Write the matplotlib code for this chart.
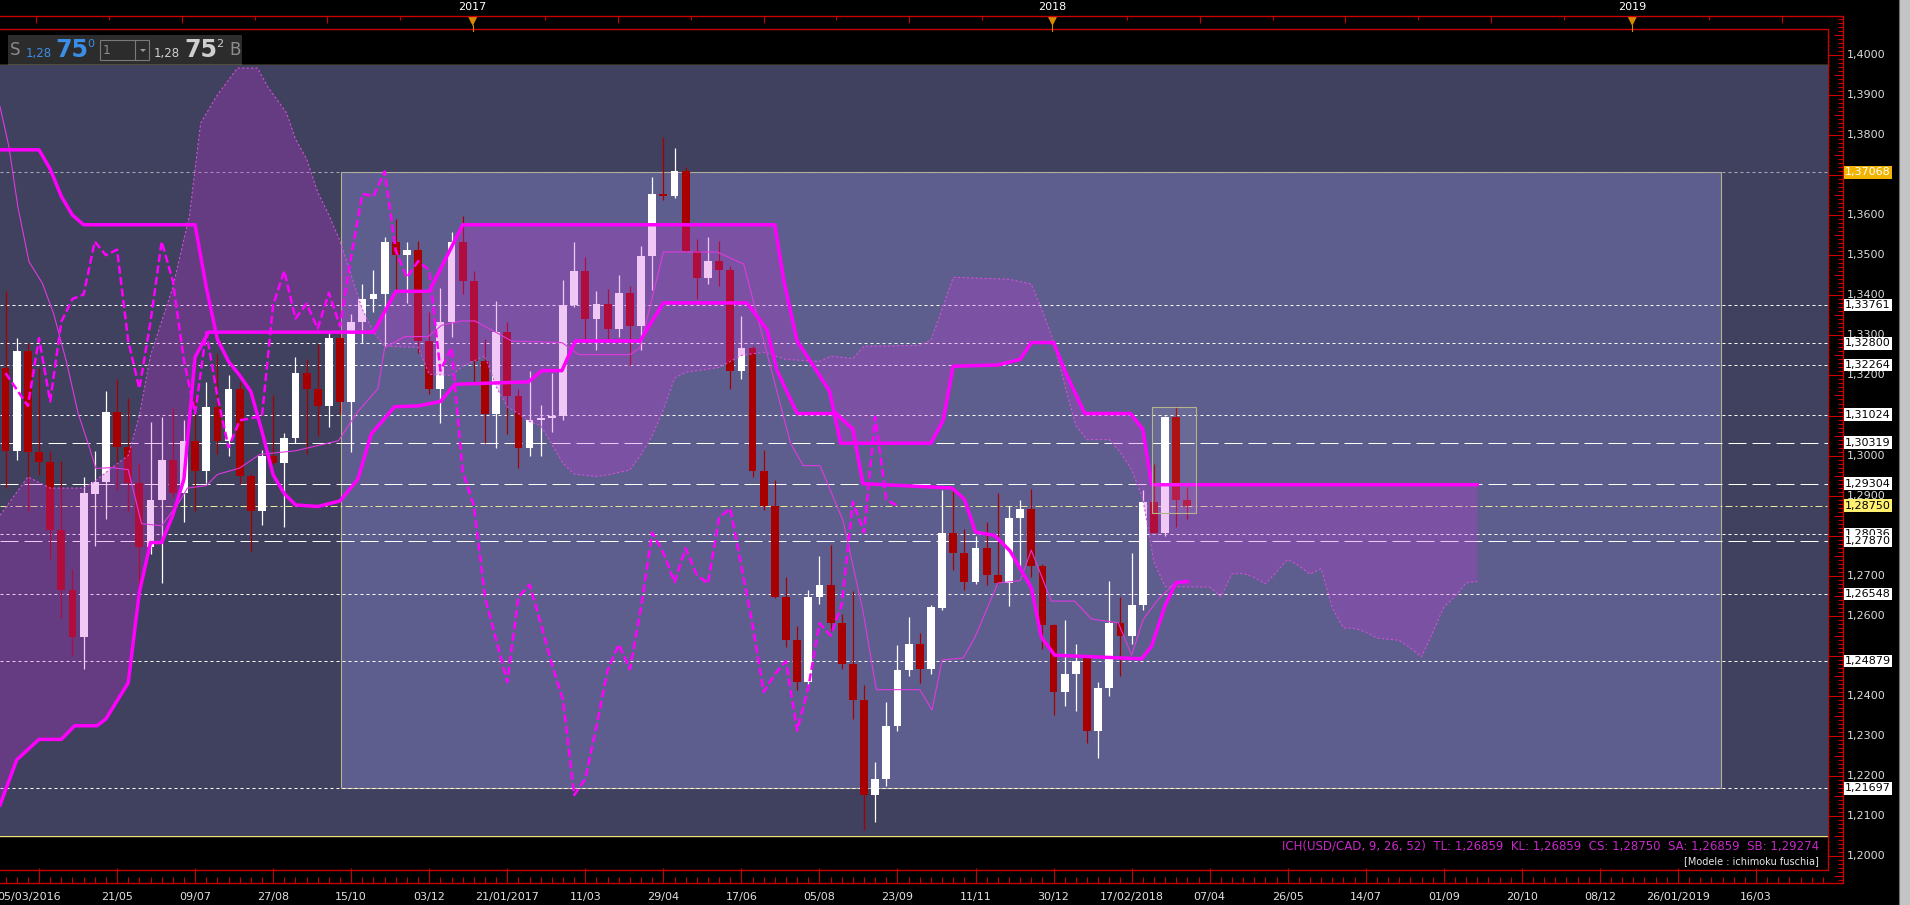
import numpy as np
import matplotlib
matplotlib.use("Agg")
import matplotlib.pyplot as plt
from matplotlib import transforms
from matplotlib.patches import Rectangle, Polygon
from matplotlib.collections import LineCollection

W, H = 1910, 905

# ---------------- data (weekly USD/CAD candles, bar index 0 = first date label) ----------------
bar_index = np.arange(-3, 104)
opens = [1.3218, 1.3011, 1.3261, 1.3009, 1.2984, 1.2815, 1.2664, 1.2548, 1.2904, 1.2935,
         1.3108, 1.3022, 1.2932, 1.2772, 1.2888, 1.2989, 1.2907, 1.3037, 1.2961, 1.3122,
         1.3037, 1.3165, 1.2950, 1.2862, 1.2998, 1.2981, 1.3043, 1.3206, 1.3167, 1.3124,
         1.3293, 1.3135, 1.3334, 1.3391, 1.3402, 1.3534, 1.3500, 1.3514, 1.3286, 1.3167,
         1.3334, 1.3534, 1.3436, 1.3237, 1.3105, 1.3308, 1.3148, 1.3020, 1.3088, 1.3093,
         1.3099, 1.3376, 1.3461, 1.3342, 1.3379, 1.3317, 1.3406, 1.3323, 1.3497, 1.3653,
         1.3647, 1.3709, 1.3511, 1.3444, 1.3485, 1.3463, 1.3212, 1.3269, 1.2961, 1.2875,
         1.2647, 1.2540, 1.2435, 1.2647, 1.2678, 1.2582, 1.2480, 1.2390, 1.2153, 1.2193,
         1.2325, 1.2464, 1.2529, 1.2467, 1.2619, 1.2808, 1.2758, 1.2684, 1.2769, 1.2702,
         1.2681, 1.2845, 1.2868, 1.2724, 1.2577, 1.2410, 1.2455, 1.2495, 1.2314, 1.2421,
         1.2582, 1.2551, 1.2627, 1.2885, 1.2808, 1.3097, 1.2890]
highs = [1.3410, 1.3293, 1.3280, 1.3218, 1.3011, 1.2986, 1.2718, 1.2947, 1.3011, 1.3161,
         1.3190, 1.3144, 1.2981, 1.3084, 1.3097, 1.3119, 1.3088, 1.3144, 1.3184, 1.3257,
         1.3201, 1.3184, 1.2955, 1.3015, 1.3150, 1.3056, 1.3246, 1.3240, 1.3278, 1.3305,
         1.3304, 1.3353, 1.3429, 1.3463, 1.3545, 1.3590, 1.3534, 1.3536, 1.3359, 1.3418,
         1.3557, 1.3598, 1.3461, 1.3291, 1.3387, 1.3334, 1.3167, 1.3210, 1.3127, 1.3206,
         1.3438, 1.3534, 1.3495, 1.3410, 1.3415, 1.3451, 1.3424, 1.3523, 1.3694, 1.3794,
         1.3768, 1.3720, 1.3540, 1.3545, 1.3536, 1.3472, 1.3348, 1.3274, 1.3014, 1.2939,
         1.2698, 1.2574, 1.2665, 1.2749, 1.2776, 1.2604, 1.2661, 1.2427, 1.2235, 1.2385,
         1.2528, 1.2597, 1.2557, 1.2627, 1.2913, 1.2913, 1.2817, 1.2800, 1.2834, 1.2907,
         1.2875, 1.2890, 1.2916, 1.2730, 1.2580, 1.2589, 1.2529, 1.2497, 1.2434, 1.2687,
         1.2647, 1.2758, 1.2913, 1.2980, 1.3100, 1.3124, 1.2921]
lows = [1.2919, 1.2989, 1.2862, 1.2952, 1.2743, 1.2596, 1.2501, 1.2467, 1.2774, 1.2842,
        1.2913, 1.2862, 1.2670, 1.2755, 1.2681, 1.2896, 1.2834, 1.2862, 1.2932, 1.3003,
        1.2998, 1.2930, 1.2763, 1.2828, 1.2978, 1.2823, 1.3032, 1.3003, 1.3048, 1.3071,
        1.3105, 1.3009, 1.3282, 1.3359, 1.3274, 1.3410, 1.3381, 1.3255, 1.3153, 1.3082,
        1.3297, 1.3402, 1.3184, 1.3031, 1.3020, 1.3054, 1.2970, 1.2999, 1.2999, 1.3060,
        1.3088, 1.3370, 1.3286, 1.3263, 1.3286, 1.3297, 1.3226, 1.3263, 1.3413, 1.3639,
        1.3644, 1.3508, 1.3391, 1.3429, 1.3424, 1.3167, 1.3192, 1.2947, 1.2864, 1.2645,
        1.2523, 1.2416, 1.2431, 1.2630, 1.2563, 1.2467, 1.2342, 1.2066, 1.2085, 1.2175,
        1.2314, 1.2450, 1.2433, 1.2455, 1.2616, 1.2715, 1.2664, 1.2679, 1.2676, 1.2679,
        1.2625, 1.2713, 1.2698, 1.2518, 1.2354, 1.2376, 1.2363, 1.2284, 1.2246, 1.2399,
        1.2449, 1.2529, 1.2616, 1.2808, 1.2800, 1.2823, 1.2841]
closes = [1.3011, 1.3261, 1.3009, 1.2984, 1.2815, 1.2664, 1.2548, 1.2907, 1.2935, 1.3108,
          1.3022, 1.2932, 1.2772, 1.2888, 1.2989, 1.2907, 1.3037, 1.2961, 1.3122, 1.3037,
          1.3165, 1.2950, 1.2862, 1.2998, 1.2981, 1.3045, 1.3206, 1.3165, 1.3124, 1.3293,
          1.3135, 1.3334, 1.3391, 1.3402, 1.3534, 1.3500, 1.3514, 1.3286, 1.3167, 1.3334,
          1.3534, 1.3436, 1.3237, 1.3105, 1.3308, 1.3148, 1.3020, 1.3088, 1.3093, 1.3099,
          1.3376, 1.3461, 1.3342, 1.3379, 1.3317, 1.3406, 1.3323, 1.3497, 1.3653, 1.3647,
          1.3709, 1.3511, 1.3444, 1.3485, 1.3463, 1.3212, 1.3269, 1.2961, 1.2875, 1.2647,
          1.2540, 1.2435, 1.2647, 1.2678, 1.2582, 1.2480, 1.2390, 1.2153, 1.2193, 1.2325,
          1.2464, 1.2529, 1.2467, 1.2622, 1.2808, 1.2758, 1.2684, 1.2769, 1.2702, 1.2681,
          1.2845, 1.2868, 1.2724, 1.2577, 1.2410, 1.2455, 1.2487, 1.2314, 1.2421, 1.2582,
          1.2551, 1.2628, 1.2885, 1.2808, 1.3097, 1.2890, 1.2875]

# Ichimoku lines (bar position, price)
tenkan_x = [-3.5, -2.7, -1.9, -0.9, 0.3, 1.3, 2.5, 3.5, 4.5, 5.1, 6.5, 8, 9.2, 11, 12.6, 13.3, 15, 16, 18,
            19.8, 23, 26.85, 28.6, 30.4, 31, 32.8, 34.9, 36.1, 37.9, 39.1, 42.4, 46.9, 48.4, 53, 53.9,
            56, 60.8, 63.2, 65.6, 67.4, 68.55, 70.05, 72.1, 73.9, 75.1, 79, 80.1, 81, 82.9, 83.95, 86,
            88, 89, 90.8, 92.9, 94.4, 96.8, 98, 99.05, 100.4, 101.9, 103]
tenkan_y = [1.3871, 1.3771, 1.3621, 1.3484, 1.3430, 1.3355, 1.3230, 1.3106, 1.3022, 1.2968, 1.2970,
            1.2965, 1.2830, 1.2825, 1.2885, 1.2919, 1.2925, 1.2953, 1.2969, 1.3003, 1.3012, 1.3037,
            1.3110, 1.3167, 1.3269, 1.3297, 1.3297, 1.3325, 1.3336, 1.3336, 1.3286, 1.3282, 1.3252,
            1.3252, 1.3269, 1.3508, 1.3508, 1.3478, 1.3223, 1.3031, 1.2975, 1.2975, 1.2839, 1.2613,
            1.2416, 1.2416, 1.2365, 1.2490, 1.2495, 1.2547, 1.2682, 1.2688, 1.2764, 1.2637, 1.2637,
            1.2592, 1.2583, 1.2502, 1.2592, 1.2642, 1.2682, 1.26859]

kijun_x = [-3.5, 0, 1, 2, 3, 4, 14, 15, 16, 17, 18, 19, 20, 21, 22, 23, 25, 27, 28.6, 29.8, 31.9, 34,
           36, 37.3, 43.9, 45.1, 46.9, 48.1, 53.9, 56, 63.5, 65.3, 66.2, 68, 71.5, 73, 73.9, 81.9, 83,
           84, 85.7, 87.1, 89, 89.9, 91.1, 98.9, 99.8, 101, 102, 103]
kijun_y = [1.3763, 1.3763, 1.3715, 1.3647, 1.3600, 1.3576, 1.3576, 1.3420, 1.3290, 1.3235, 1.3200,
           1.3160, 1.3060, 1.2952, 1.2905, 1.2877, 1.2873, 1.2887, 1.2941, 1.3054, 1.3122, 1.3124,
           1.3135, 1.3178, 1.3184, 1.3212, 1.3212, 1.3286, 1.3286, 1.3381, 1.3381, 1.3314, 1.3212,
           1.3105, 1.3105, 1.3066, 1.2930, 1.2919, 1.2891, 1.2809, 1.2801, 1.2762, 1.2671, 1.2547,
           1.2502, 1.2493, 1.2525, 1.2626, 1.2683, 1.26859]

ssb_x = [-3.5, -2, 0, 2, 3.2, 5.2, 6, 8, 9, 10, 11, 12, 13, 14, 15.2, 30, 32, 35, 38, 66, 66.8, 68,
         69.2, 70.9, 71.9, 80, 81.1, 82, 86, 88, 89, 91, 92, 93.8, 97.9, 99, 99.8, 129]
ssb_y = [1.2128, 1.2241, 1.2292, 1.2292, 1.2326, 1.2326, 1.2343, 1.2433, 1.2659, 1.2783, 1.2783,
         1.2851, 1.2941, 1.3246, 1.3308, 1.3308, 1.3410, 1.3410, 1.3576, 1.3576, 1.3438, 1.3286,
         1.3235, 1.3161, 1.3031, 1.3031, 1.3088, 1.3223, 1.3226, 1.3240, 1.3282, 1.3282, 1.3212,
         1.3105, 1.3105, 1.3066, 1.29274, 1.29274]

ssa_x = [-3.5, -1, 1, 4, 5, 6.5, 8, 9, 10, 12, 13.5, 14.5, 16, 17.8, 19.6, 20.5, 22.2, 23, 24, 25,
         26, 27, 28, 29, 30, 31, 34, 35, 37, 38, 40, 41, 42, 43, 44, 45, 46, 47, 48, 50, 51, 53, 54,
         55, 56, 57, 58, 61, 63, 65, 67, 70, 71, 73, 74, 79, 80, 81, 82, 87, 89, 90, 91, 92, 93, 94,
         96, 97, 98, 99, 100, 101, 105, 106, 107, 108, 109, 110, 111, 112, 113, 114, 115, 116, 117,
         118, 119, 120, 122, 123, 124, 125, 126, 127, 128, 129]
ssa_y = [1.2851, 1.2947, 1.2919, 1.2919, 1.2936, 1.2969, 1.3000, 1.3100, 1.3250, 1.3420, 1.3600,
         1.3830, 1.3900, 1.3967, 1.3967, 1.3921, 1.3855, 1.3790, 1.3740, 1.3657, 1.3600, 1.3535,
         1.3450, 1.3365, 1.3308, 1.3273, 1.3270, 1.3203, 1.3200, 1.3223, 1.3249, 1.3172, 1.3122,
         1.3105, 1.3085, 1.3075, 1.3028, 1.2981, 1.2954, 1.2948, 1.2952, 1.2964, 1.3003, 1.3050,
         1.3115, 1.3193, 1.3208, 1.3220, 1.3250, 1.3258, 1.3240, 1.3235, 1.3248, 1.3242, 1.3273,
         1.3275, 1.3288, 1.3365, 1.3445, 1.3440, 1.3428, 1.3360, 1.3285, 1.3176, 1.3075, 1.3040,
         1.3040, 1.3008, 1.2965, 1.2893, 1.2735, 1.2673, 1.2672, 1.2648, 1.2705, 1.2706, 1.2696,
         1.2680, 1.2710, 1.2741, 1.2725, 1.2704, 1.2718, 1.2620, 1.2570, 1.2569, 1.2560, 1.2545,
         1.2539, 1.2520, 1.2498, 1.2558, 1.2622, 1.2648, 1.2683, 1.26859]

# horizontal levels
level_values = [1.37068, 1.33761, 1.32800, 1.32264, 1.31024, 1.30319, 1.29304, 1.28750,
                1.28036, 1.27870, 1.26548, 1.24879, 1.21697]
level_kinds = ['grey', 'dot', 'dot', 'dot', 'dot', 'dash', 'dash', 'close',
               'dot', 'dash', 'dot', 'dot', 'dot']
level_labels = ['1,37068', '1,33761', '1,32800', '1,32264', '1,31024', '1,30319', '1,29304',
                '1,28750', '1,28036', '1,27870', '1,26548', '1,24879', '1,21697']

# zones
big_zone = (27.1, 150.9, 1.21697, 1.37068)
small_zone = (99.8, 103.8, 1.2856, 1.3122)

# round price labels visible on the axis (others are hidden under level labels)
price_ticks = [1.40, 1.39, 1.38, 1.36, 1.35, 1.34, 1.33, 1.32, 1.30, 1.29,
               1.27, 1.26, 1.24, 1.23, 1.22, 1.21, 1.20]
date_labels = ['05/03/2016', '21/05', '09/07', '27/08', '15/10', '03/12', '21/01/2017', '11/03',
               '29/04', '17/06', '05/08', '23/09', '11/11', '30/12', '17/02/2018', '07/04', '26/05',
               '14/07', '01/09', '20/10', '08/12', '26/01/2019', '16/03']
date_step = 7
year_labels = ['2017', '2018', '2019']
year_pos = [38.9, 90.9, 142.9]

info_text = ("ICH(USD/CAD, 9, 26, 52)  TL: 1,26859  KL: 1,26859  CS: 1,28750  "
             "SA: 1,26859  SB: 1,29274")
model_text = "[Modele : ichimoku fuschia]"

# ---------------- figure ----------------
plt.rcParams['font.family'] = ['DejaVu Sans']
fig = plt.figure(figsize=(W / 100, H / 100), dpi=100, facecolor='black')
ov = fig.add_axes([0, 0, 1, 1], zorder=0)
ov.set_xlim(0, W)
ov.set_ylim(H, 0)
ov.axis('off')

PT, PB, PR = 65, 836, 1828
ax = fig.add_axes([0, (H - PB) / H, PR / W, (PB - PT) / H], zorder=1)
ax.set_xlim(-3.5, 160.46)
ax.set_ylim(1.20509, 1.39746)
ax.set_facecolor('#40405f')
ax.set_xticks([])
ax.set_yticks([])
for s in ax.spines.values():
    s.set_visible(False)

# zones
x0, x1, y0, y1 = big_zone
ax.add_patch(Rectangle((x0, y0), x1 - x0, y1 - y0, fc='#5e5e8e', ec='#b4b48c', lw=0.8, zorder=0.5))

# levels
for v, k in zip(level_values, level_kinds):
    if k == 'grey':
        ax.axhline(v, color='#a8a8b8', lw=0.72, ls=(0, (3, 3)), zorder=1.5)
    elif k == 'dot':
        ax.axhline(v, color='#ffffff', lw=0.72, ls=(0, (3, 3)), zorder=1.5)
    elif k == 'dash':
        ax.axhline(v, color='#ffffff', lw=0.72, ls=(0, (18, 6)), zorder=1.5)
    else:
        ax.axhline(v, color='#e8e898', lw=0.72, ls=(0, (7, 3, 2, 3)), zorder=1.5)

# candles
o = np.array(opens); c = np.array(closes); hi = np.array(highs); lo = np.array(lows)
bull = c >= o
cols = np.where(bull, '#ffffff', '#a80000')
ax.vlines(bar_index, lo, hi, colors=cols, lw=0.9, zorder=2)
body_lo = np.minimum(o, c)
body_h = np.maximum(np.abs(c - o), 0.00028)
ax.bar(bar_index, body_h, bottom=body_lo, width=0.7, color=cols, lw=0, zorder=2.1)

# kumo (drawn over candles)
cx = np.concatenate([ssa_x, ssb_x[::-1]])
cy = np.concatenate([ssa_y, ssb_y[::-1]])
ax.fill(cx, cy, color=(0.80, 0.20, 0.87), alpha=0.27, lw=0, zorder=3)
ax.plot(ssa_x, ssa_y, color='#d050d8', lw=0.8, ls=(0, (2, 2)), zorder=3.5)

# lines
ax.plot(tenkan_x, tenkan_y, color='#e038e0', lw=0.8, zorder=4)
ax.plot(kijun_x, kijun_y, color='#ff00ff', lw=2.5, zorder=4.2, solid_joinstyle='round')
ax.plot(ssb_x, ssb_y, color='#ff00ff', lw=2.5, zorder=4.2, solid_joinstyle='round')
ax.plot(bar_index[26:] - 26, c[26:], color='#ff00ff', lw=1.8, ls=(0, (3.2, 1.4)), zorder=4.1)

sx0, sx1, sy0, sy1 = small_zone
ax.add_patch(Rectangle((sx0, sy0), sx1 - sx0, sy1 - sy0, fc=(1, 1, 1, 0.08), ec='#b4b48c',
                       lw=0.8, zorder=5))

# ---------------- frame / axes decorations ----------------
red = '#c80000'
ov.add_patch(Rectangle((1899, 0), 11, H, fc='#c4c4c4', ec='none'))
ov.plot([1898.5, 1898.5], [0, H], color='#707070', lw=0.8)
# plot borders (yellow)
ov.plot([0, PR], [PT, PT], color='#f0e07a', lw=1.0)
ov.plot([0, PR], [PB, PB], color='#f0e07a', lw=1.0)
# red frames
ov.plot([0, 1843, 1843, 0], [16, 16, 883, 883], color=red, lw=1.0)
ov.plot([0, PR, PR, 0], [29, 29, 870, 870], color=red, lw=1.0)

# right price axis ticks
blended = transforms.blended_transform_factory(ov.transData, ax.transData)
segs = []
for k in range(1194, 1410):
    p = k / 1000.0
    if k % 10 == 0:
        segs.append([(PR, p), (1843, p)])
    elif k % 5 == 0:
        segs.append([(1834, p), (1843, p)])
    else:
        segs.append([(1838, p), (1843, p)])
ov.add_collection(LineCollection(segs, colors=red, lw=0.8, transform=blended))

for p in price_ticks:
    ov.text(1847, p, ('%.4f' % p).replace('.', ','), transform=blended, color='#dcdcdc',
            fontsize=8, va='center', ha='left', zorder=2)

for v, lab, k in zip(level_values, level_labels, level_kinds):
    if k == 'grey':
        fc, tc = '#f2b400', '#ffffff'
    elif k == 'close':
        fc, tc = '#fff070', '#000000'
    else:
        fc, tc = '#ffffff', '#000000'
    ov.text(1845, v, lab, transform=blended, color=tc, fontsize=8, va='center', ha='left',
            zorder=3, bbox=dict(boxstyle='square,pad=0.12', fc=fc, ec='none'))

# bottom date axis
bx = transforms.blended_transform_factory(ax.transData, ov.transData)
segs = []
for b in range(-3, 161):
    if b % date_step == 0:
        segs.append([(b, 868), (b, 883)])
    else:
        segs.append([(b, 877), (b, 883)])
ov.add_collection(LineCollection(segs, colors=red, lw=0.8, transform=bx))
for n, lab in enumerate(date_labels):
    if n == 0:
        ov.text(-3, 897, lab, color='#e0e0e0', fontsize=8, ha='left', va='center')
    else:
        ov.text(n * date_step, 897, lab, transform=bx, color='#e0e0e0', fontsize=8,
                ha='center', va='center')

# top year axis
step = 52.18 / 8
segs = []
for k in range(-6, 19):
    pos = year_pos[0] + k * step
    if k % 8 == 0:
        continue
    segs.append([(pos, 16), (pos, 23 if k % 2 == 0 else 20)])
ov.add_collection(LineCollection(segs, colors=red, lw=0.8, transform=bx))
for lab, pos in zip(year_labels, year_pos):
    ov.text(pos, 7, lab, transform=bx, color='#ffffff', fontsize=8, ha='center', va='center')
    xp = ax.transData.transform((pos, 1.3))[0]
    ov.add_patch(Polygon([(xp - 4.5, 17), (xp + 4.5, 17), (xp, 26)], closed=True,
                         fc='#d88a00', ec='none'))
    ov.plot([xp, xp], [25, 31], color='#d88a00', lw=0.8)

# info text
ov.text(1819, 846, info_text, color='#c628c6', fontsize=8.5, ha='right', va='center')
ov.text(1819, 861, model_text, color='#e6e6e6', fontsize=7.0, ha='right', va='center')

# top-left quote widget
ov.add_patch(Rectangle((8, 35), 234, 30, fc='#2c2c2c', ec='none'))
ov.text(10, 50, 'S', color='#8c8c8c', fontsize=12, va='center', ha='left')
ov.text(26, 53, '1,28', color='#3a8ee6', fontsize=8.5, va='center', ha='left')
ov.text(55, 50, '75', color='#3a8ee6', fontsize=17, fontweight='bold', va='center', ha='left')
ov.text(87, 44, '0', color='#3a8ee6', fontsize=8, va='center', ha='left')
ov.add_patch(Rectangle((100, 40.5), 49, 20, fc='none', ec='#7a7a7a', lw=0.8))
ov.plot([135, 135], [41, 60], color='#7a7a7a', lw=0.8)
ov.add_patch(Polygon([(140, 49), (146, 49), (143, 52)], closed=True, fc='#9a9a9a', ec='none'))
ov.text(103, 51, '1', color='#8c8c8c', fontsize=9, va='center', ha='left')
ov.text(154, 53, '1,28', color='#cfcfcf', fontsize=8.5, va='center', ha='left')
ov.text(184, 50, '75', color='#cfcfcf', fontsize=17, fontweight='bold', va='center', ha='left')
ov.text(216, 44, '2', color='#cfcfcf', fontsize=8, va='center', ha='left')
ov.text(229, 50, 'B', color='#8c8c8c', fontsize=12, va='center', ha='left')

fig.savefig('out.png', dpi=100, facecolor='black')
